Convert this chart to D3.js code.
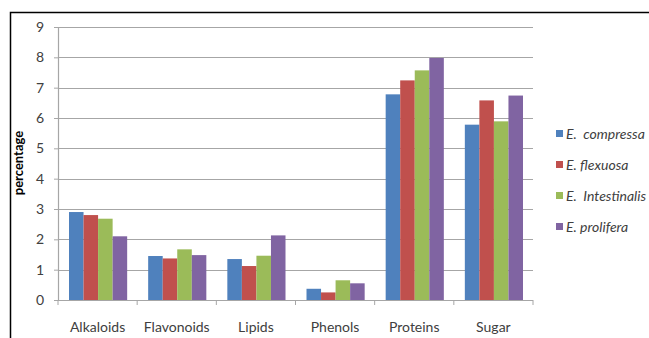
<!DOCTYPE html>
<html>
<head>
    <meta charset="utf-8" />
    <script src="https://d3js.org/d3.v7.min.js"></script>
    <style>
        body { margin: 0; background: #fff; }
        text { font-family: Lato, "Open Sans", sans-serif; fill: #404040; }
        .legend text { font-style: italic; white-space: pre; }
    </style>
</head>
<body>
<div id="chart"></div>
<script>
    const categories = ["Alkaloids", "Flavonoids", "Lipids", "Phenols", "Proteins", "Sugar"];
    const seriesNames = ["E.  compressa", "E. flexuosa", "E.  Intestinalis", "E. prolifera"];
    const seriesColors = ["#4f81bd", "#c0504d", "#9bbb59", "#8064a2"];
    const compressa = [2.9, 1.45, 1.35, 0.37, 6.78, 5.78];
    const flexuosa = [2.8, 1.37, 1.12, 0.25, 7.24, 6.58];
    const intestinalis = [2.68, 1.67, 1.46, 0.65, 7.57, 5.89];
    const prolifera = [2.1, 1.48, 2.13, 0.55, 7.98, 6.74];
    const yTicks = [0, 1, 2, 3, 4, 5, 6, 7, 8, 9];

    const seriesValues = [compressa, flexuosa, intestinalis, prolifera];
    const data = categories.map((c, i) => ({
        category: c,
        values: seriesNames.map((s, j) => ({ series: s, value: seriesValues[j][i] }))
    }));

    const svgWidth = 649, svgHeight = 338;
    const margin = { top: 27, right: 116, bottom: 38, left: 58 };
    const chartWidth = svgWidth - margin.left - margin.right;
    const chartHeight = svgHeight - margin.top - margin.bottom;

    const svg = d3.select("#chart").append("svg")
        .attr("width", svgWidth)
        .attr("height", svgHeight);

    // outer frame (top and left edges visible)
    svg.append("path")
        .attr("d", "M10.5,338 L10.5,12.5 L649,12.5")
        .attr("fill", "none")
        .attr("stroke", "#000")
        .attr("stroke-width", 1.5);

    const chart = svg.append("g")
        .attr("transform", `translate(${margin.left}, ${margin.top})`);

    const xScale = d3.scaleBand()
        .domain(categories)
        .range([0, chartWidth]);

    const xInner = d3.scaleBand()
        .domain(seriesNames)
        .range([11, xScale.bandwidth() - 10]);

    const yScale = d3.scaleLinear()
        .domain([0, 9])
        .range([chartHeight, 0]);

    // gridlines
    chart.append("g")
        .selectAll("line")
        .data(yTicks.filter(d => d > 0))
        .enter().append("line")
        .attr("x1", 0)
        .attr("x2", chartWidth)
        .attr("y1", d => Math.round(yScale(d)) + 0.5)
        .attr("y2", d => Math.round(yScale(d)) + 0.5)
        .attr("stroke", "#a6a6a6")
        .attr("stroke-width", 1.2);

    // y axis
    const yAxis = d3.axisLeft(yScale).tickValues(yTicks).tickSize(4).tickPadding(10);
    const yg = chart.append("g").call(yAxis);
    yg.select(".domain").attr("stroke", "#a6a6a6").attr("stroke-width", 1.2);
    yg.selectAll(".tick line").attr("stroke", "#a6a6a6");
    yg.selectAll("text").style("font-size", "14px");

    // bars
    const groups = chart.selectAll(".group")
        .data(data)
        .enter().append("g")
        .attr("class", "group")
        .attr("transform", d => `translate(${xScale(d.category)}, 0)`);

    groups.selectAll("rect")
        .data(d => d.values)
        .enter().append("rect")
        .attr("x", d => xInner(d.series))
        .attr("y", d => yScale(d.value))
        .attr("width", xInner.bandwidth())
        .attr("height", d => chartHeight - yScale(d.value))
        .attr("fill", (d, i) => seriesColors[i]);

    // x axis
    const xAxisLine = chart.append("g")
        .attr("transform", `translate(0, ${chartHeight})`);
    xAxisLine.append("line")
        .attr("x1", 0).attr("x2", chartWidth)
        .attr("y1", 0.5).attr("y2", 0.5)
        .attr("stroke", "#a6a6a6").attr("stroke-width", 1.2);
    xAxisLine.selectAll(".tk")
        .data(d3.range(categories.length + 1))
        .enter().append("line")
        .attr("x1", i => i * xScale.bandwidth())
        .attr("x2", i => i * xScale.bandwidth())
        .attr("y1", 0).attr("y2", 5)
        .attr("stroke", "#a6a6a6");
    xAxisLine.selectAll("text")
        .data(categories)
        .enter().append("text")
        .attr("x", d => xScale(d) + xScale.bandwidth() / 2)
        .attr("y", 32)
        .attr("text-anchor", "middle")
        .style("font-size", "14px")
        .text(d => d);

    // y label
    svg.append("text")
        .attr("transform", "rotate(-90)")
        .attr("x", -163)
        .attr("y", 23)
        .attr("text-anchor", "middle")
        .style("font-size", "13px")
        .style("font-weight", "bold")
        .style("fill", "#000")
        .text("percentage");

    // legend
    const legend = svg.append("g")
        .attr("class", "legend")
        .attr("transform", "translate(556, 134)");
    const items = legend.selectAll("g")
        .data(seriesNames)
        .enter().append("g")
        .attr("transform", (d, i) => `translate(0, ${i * 31})`);
    items.append("rect")
        .attr("x", 0).attr("y", -4)
        .attr("width", 7).attr("height", 7)
        .attr("fill", (d, i) => seriesColors[i]);
    items.append("text")
        .attr("x", 10)
        .attr("y", 5)
        .style("font-size", "14px")
        .text(d => d);
</script>
</body>
</html>
